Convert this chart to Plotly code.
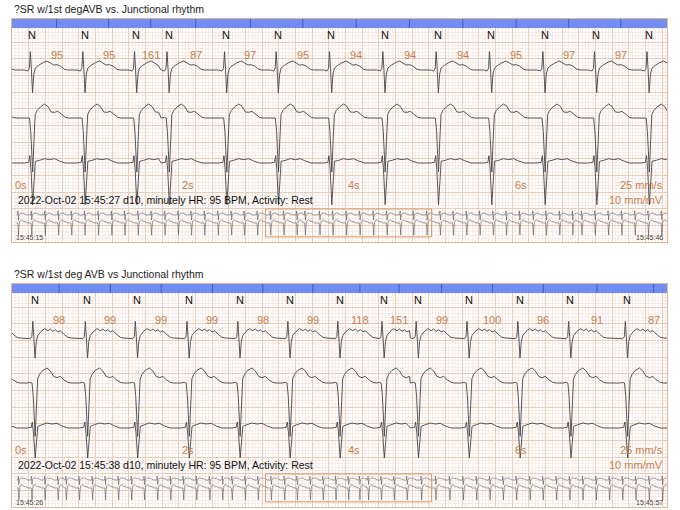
import plotly.graph_objects as go

# ---- data (seconds from strip start, mV) ----
titles = ["?SR w/1st degAVB vs. Junctional rhythm",
          "?SR w/1st deg AVB vs Junctional rhythm"]
info = ["2022-Oct-02 15:45:27 d10, minutely HR: 95 BPM, Activity: Rest",
        "2022-Oct-02 15:45:38 d10, minutely HR: 95 BPM, Activity: Rest"]
stamps = [("15:45:15", "15:45:46"), ("15:45:26", "15:45:57")]
time_labels = ["0s", "2s", "4s", "6s"]
time_ticks = [0, 2, 4, 6]

# R-peak times, first and last may sit just outside the window
beats1 = [-0.41, 0.22, 0.85, 1.47, 1.86, 2.55, 3.17, 3.81, 4.45, 5.09,
          5.73, 6.37, 6.99, 7.62, 8.24]
hr1 = [95, 95, 161, 87, 97, 95, 94, 94, 94, 95, 97, 97]
beats2 = [-0.36, 0.25, 0.88, 1.48, 2.10, 2.71, 3.31, 3.91, 4.44, 4.85,
          5.46, 6.07, 6.68, 7.36, 8.04]
hr2 = [98, 99, 99, 99, 98, 99, 118, 151, 99, 100, 96, 91, 87]

# 31 s overview strips (beats outside the 8 s window)
mini_pre1 = [0.28, 0.91, 1.55, 2.18, 2.80, 3.43, 4.07, 4.70, 5.32, 5.95,
             6.58, 7.22, 7.85, 8.47, 9.10, 9.74, 10.37, 10.98, 11.60]
mini_post1 = [20.25, 20.87, 21.50, 22.13, 22.76, 23.38, 24.01, 24.65, 25.27,
              25.90, 26.52, 26.95, 27.58, 28.21, 28.84, 29.47, 30.10, 30.73,
              31.36]
mini_pre2 = [0.30, 0.92, 1.54, 2.16, 2.55, 3.17, 3.79, 4.40, 5.02, 5.64,
             6.25, 6.87, 7.49, 8.10, 8.72, 9.34, 9.95, 10.40, 11.02, 11.63]
mini_post2 = [20.04, 20.70, 21.34, 21.97, 22.60, 23.23, 23.86, 24.50, 25.12,
              25.75, 26.38, 27.00, 27.63, 28.26, 28.88, 29.51, 30.14, 30.77,
              31.40]

# beat shapes: (offset from R in s, mV above baseline)
lead1_a = [(-0.07, 0), (-0.03, -0.03), (-0.012, 0.05), (0.0, 0.55), (0.012, 0.05),
           (0.026, -0.68), (0.042, -0.12), (0.06, 0.06), (0.10, 0.14), (0.15, 0.22),
           (0.20, 0.27), (0.24, 0.22), (0.28, 0.15), (0.32, 0.16), (0.36, 0.12),
           (0.41, 0.02), (0.45, 0.0)]
lead2_a = [(-0.07, 0), (-0.03, 0.02), (-0.01, 0.0), (0.005, -0.4), (0.028, -1.62),
           (0.045, -0.6), (0.058, 0.1), (0.08, 0.22), (0.12, 0.33), (0.17, 0.42),
           (0.21, 0.35), (0.25, 0.18), (0.29, 0.17), (0.33, 0.2), (0.37, 0.12),
           (0.42, 0.02), (0.46, 0)]
lead3_a = [(-0.07, 0), (-0.02, 0.02), (-0.006, 0.22), (0.008, -0.2), (0.028, -1.25),
           (0.045, -0.3), (0.06, 0.05), (0.11, 0.08), (0.17, 0.13), (0.23, 0.1),
           (0.29, 0.13), (0.35, 0.06), (0.42, 0)]
lead1_b = [(-0.07, 0), (-0.03, -0.02), (-0.012, 0.04), (0.0, 0.5), (0.012, 0.04),
           (0.026, -0.6), (0.042, -0.1), (0.06, 0.08), (0.10, 0.2), (0.14, 0.28),
           (0.18, 0.22), (0.21, 0.27), (0.24, 0.2), (0.27, 0.25), (0.30, 0.18),
           (0.33, 0.22), (0.37, 0.12), (0.42, 0.02), (0.46, 0)]
lead2_b = [(-0.07, 0), (-0.03, 0.02), (-0.01, 0.0), (0.005, -0.4), (0.028, -1.6),
           (0.045, -0.6), (0.058, 0.12), (0.08, 0.26), (0.12, 0.38), (0.17, 0.45),
           (0.21, 0.36), (0.25, 0.2), (0.29, 0.16), (0.33, 0.2), (0.37, 0.1),
           (0.42, 0.02), (0.46, 0)]
lead3_b = [(-0.07, 0), (-0.02, 0.02), (-0.006, 0.18), (0.008, -0.15), (0.028, -0.9),
           (0.045, -0.2), (0.06, 0.05), (0.11, 0.1), (0.17, 0.15), (0.23, 0.12),
           (0.29, 0.14), (0.35, 0.06), (0.42, 0)]

WIN = 7.86      # seconds shown in each strip
MINI = 31.0     # seconds in the overview strip
OFFSET = 12.0   # window start inside overview
ORANGE = "#c47f4e"
FONT = "Liberation Sans, Arial, sans-serif"


def build(beats, shape, base):
    xs, ys = [], []
    for i, tb in enumerate(beats):
        stop = beats[i + 1] + shape[0][0] if i + 1 < len(beats) else 1e9
        for dt, v in shape:
            if tb + dt < stop:
                xs.append(tb + dt)
                ys.append(base + v)
    return xs, ys


fig = go.Figure()
panels = [
    dict(beats=beats1, hr=hr1, pre=mini_pre1, post=mini_post1,
         shapes=[(lead1_a, 5.16), (lead2_a, 3.72), (lead3_a, 2.37)],
         main_dom=[0.5255, 0.9627], mini_dom=[0.5294, 0.5902]),
    dict(beats=beats2, hr=hr2, pre=mini_pre2, post=mini_post2,
         shapes=[(lead1_b, 5.07), (lead2_b, 3.72), (lead3_b, 2.37)],
         main_dom=[0.00588, 0.4431], mini_dom=[0.0098, 0.0706]),
]

shapes = []
annots = []
xdom = [12 / 680, 667 / 680]
for p, pan in enumerate(panels):
    ax = 2 * p + 1
    mx = 2 * p + 2
    xa, ya = "x%d" % ax if ax > 1 else "x", "y%d" % ax if ax > 1 else "y"
    xm, ym = "x%d" % mx, "y%d" % mx

    for shape, base in pan["shapes"]:
        x, y = build(pan["beats"], shape, base)
        fig.add_trace(go.Scatter(x=x, y=y, mode="lines", xaxis=xa, yaxis=ya,
                                 line=dict(color="#444", width=0.9),
                                 hoverinfo="skip", showlegend=False))

    # overview strip: leads 1 and 2
    window = [b + OFFSET for b in pan["beats"] if 0 <= b <= WIN]
    mb = pan["pre"] + window + pan["post"]
    for shape, base in [(pan["shapes"][0][0], 3.33), (pan["shapes"][1][0], 2.27)]:
        x, y = build(mb, shape, base)
        fig.add_trace(go.Scatter(x=x, y=y, mode="lines", xaxis=xm, yaxis=ym,
                                 line=dict(color="#555", width=0.6),
                                 hoverinfo="skip", showlegend=False))

    grid = dict(showgrid=True, gridcolor="#eacdb8", gridwidth=0.8, zeroline=False,
                showticklabels=False, ticks="", showline=True, mirror=True,
                linecolor="#e0b898", linewidth=1, tick0=0)
    fig.layout["xaxis%d" % ax if ax > 1 else "xaxis"] = dict(
        grid, domain=xdom, range=[0, WIN], dtick=0.2, anchor=ya,
        minor=dict(dtick=0.04, showgrid=True, gridcolor="#f7ebe6", gridwidth=0.5))
    fig.layout["yaxis%d" % ax if ax > 1 else "yaxis"] = dict(
        grid, domain=pan["main_dom"], range=[0, 6.69], dtick=0.5, anchor=xa,
        minor=dict(dtick=0.1, showgrid=True, gridcolor="#f7ebe6", gridwidth=0.5))
    fig.layout["xaxis%d" % mx] = dict(domain=xdom, range=[0, MINI], visible=False,
                                      anchor=ym)
    fig.layout["yaxis%d" % mx] = dict(domain=pan["mini_dom"], range=[0, 4.13],
                                      visible=False, anchor=xm)

    # blue beat bar with dividers between beats
    shapes.append(dict(type="rect", xref=xa + " domain", yref=ya + " domain",
                       x0=0, x1=1, y0=0.9596, y1=1, layer="above",
                       fillcolor="rgba(96,128,242,0.88)", line=dict(width=0)))
    beats = pan["beats"]
    mids = [(a + b) / 2 for a, b in zip(beats[:-1], beats[1:])]
    for m in mids:
        if 0 < m < WIN:
            shapes.append(dict(type="line", xref=xa, yref=ya + " domain",
                               x0=m, x1=m, y0=0.9596, y1=1, layer="above",
                               line=dict(color="#3f5ac8", width=1)))
    for b in beats:
        if 0 <= b <= WIN:
            annots.append(dict(x=b + 0.02, y=6.21, xref=xa, yref=ya, text="N",
                               showarrow=False, font=dict(size=11, color="#111")))
    for lab, m in zip(pan["hr"], mids[1:]):
        annots.append(dict(x=m, y=5.61, xref=xa, yref=ya, text=str(lab),
                           showarrow=False, font=dict(size=11, color=ORANGE)))
    for lab, t in zip(time_labels, time_ticks):
        annots.append(dict(x=t, y=1.7, xref=xa, yref=ya, text=lab, xanchor="left",
                           showarrow=False, xshift=1,
                           font=dict(size=11, color=ORANGE)))
    annots.append(dict(x=WIN, y=1.7, xref=xa, yref=ya, text="25 mm/s",
                       xanchor="right", showarrow=False, xshift=-2,
                       font=dict(size=11, color=ORANGE)))
    annots.append(dict(x=WIN, y=1.26, xref=xa, yref=ya, text="10 mm/mV",
                       xanchor="right", showarrow=False, xshift=-2,
                       font=dict(size=11, color=ORANGE)))
    annots.append(dict(x=0.05, y=1.26, xref=xa, yref=ya, text=info[p],
                       xanchor="left", showarrow=False,
                       font=dict(size=10.5, color="#111")))
    annots.append(dict(x=12 / 680, y=1 - (9 + 265 * p) / 510, xref="paper",
                       yref="paper", text=titles[p], xanchor="left",
                       yanchor="middle", showarrow=False,
                       font=dict(size=10.5, color="#222")))

    # overview window box and time stamps
    shapes.append(dict(type="rect", xref=xm, yref=ym + " domain",
                       x0=OFFSET, x1=OFFSET + WIN, y0=0.1, y1=1.0,
                       line=dict(color="#d09a72", width=1)))
    annots.append(dict(x=0.1, y=0.35, xref=xm, yref=ym, text=stamps[p][0],
                       xanchor="left", showarrow=False,
                       font=dict(size=7, color="#444")))
    annots.append(dict(x=MINI - 0.1, y=0.35, xref=xm, yref=ym, text=stamps[p][1],
                       xanchor="right", showarrow=False,
                       font=dict(size=7, color="#444")))

fig.update_layout(width=680, height=510, autosize=False,
                  margin=dict(l=0, r=0, t=0, b=0),
                  paper_bgcolor="white", plot_bgcolor="rgba(0,0,0,0)",
                  font=dict(family=FONT), shapes=shapes, annotations=annots,
                  showlegend=False)
fig.write_html("out.html", config={"displayModeBar": False},
               post_script="document.body.style.margin='0';")
